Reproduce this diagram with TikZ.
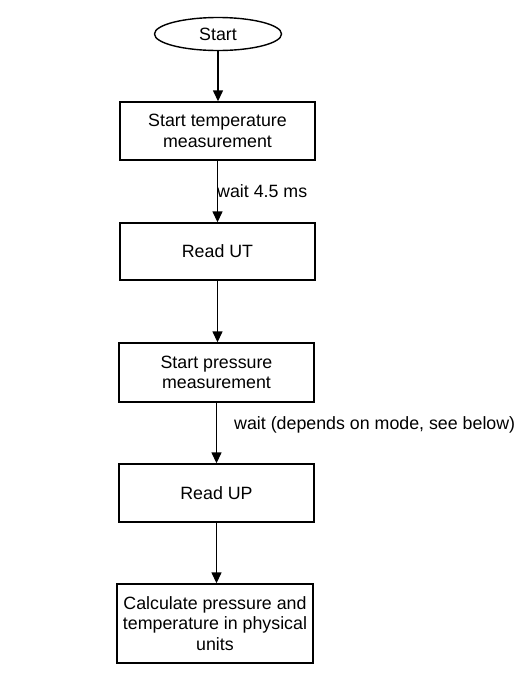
\documentclass[tikz,border=0pt]{standalone}
\usepackage{fontspec}
\setmainfont{Liberation Sans}
\usetikzlibrary{shapes.geometric,arrows.meta}

\begin{document}
\begin{tikzpicture}[x=1pt,y=-1pt,
    txt/.style={font=\fontsize{17.8}{20.5}\selectfont},
    box/.style={draw, txt, line width=1.4pt, minimum width=195pt, minimum height=58pt, inner sep=0pt, align=center},
    arr/.style={-{Triangle[width=10pt,length=11pt]}, line width=1.4pt}]
			\useasboundingbox (0,0) rectangle (532,675);
			\begin{scope}
				\node[draw, ellipse, txt, line width=1.4pt, minimum width=127pt, minimum height=33pt, inner sep=0pt] (start) at (218,34) {Start};

				\node[box] (tempstart) at (217.5,131) {Start temperature\\measurement};
				\node[box, minimum height=57pt] (readut) at (217.5,251.5) {Read UT};
				\node[box, minimum height=59pt] (presstart) at (216.5,372.5) {Start pressure\\measurement};
				\node[box] (readup) at (216.5,493) {Read UP};
				\node[box, minimum width=196pt, minimum height=79pt] (calc) at (215,623.5) {Calculate pressure and\\temperature in physical\\units};

				\draw[arr] (start) -- (start |- tempstart.north); % start -> temp
				\draw[arr] (tempstart) -- (tempstart |- readut.north); % temp -> UT
				\draw[arr] (readut) -- (readut |- presstart.north); % UT -> pressure
				\draw[arr] (presstart) -- (presstart |- readup.north); % pressure -> UP
				\draw[arr] (readup) -- (readup |- calc.north); % UP -> calc

				\node[txt, anchor=west, inner sep=0pt] (waitut) at (217,191) {wait 4.5 ms};
				\node[txt, anchor=west, inner sep=0pt] (waitup) at (234,425) {wait (depends on mode, see below)};
			\end{scope}
		\end{tikzpicture}
\end{document}
